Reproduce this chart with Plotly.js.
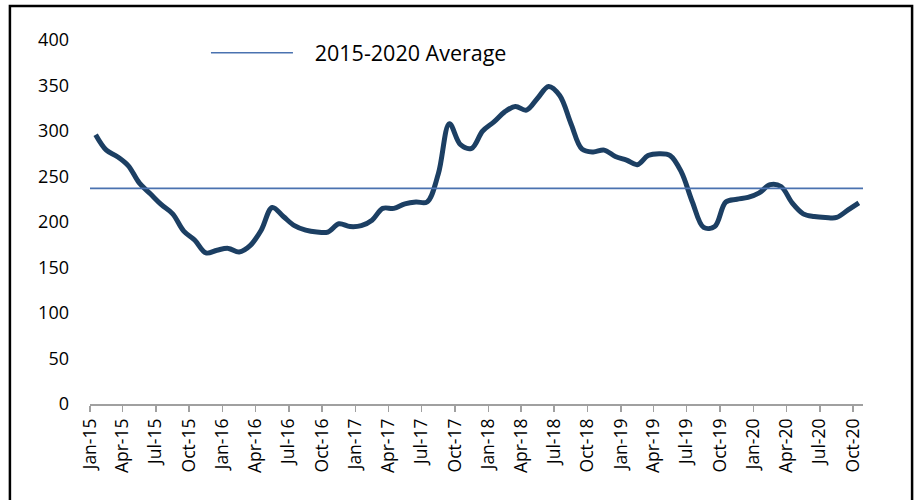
<!DOCTYPE html>
<html>
<head>
<meta charset="utf-8">
<script src="https://cdn.plot.ly/plotly-3.0.1.min.js"></script>
<style>
  html, body { margin: 0; padding: 0; background: #ffffff; }
  #chart { width: 915px; height: 500px; }
</style>
</head>
<body>
<div id="chart"></div>
<script>
// ---- Data ----
const months = [
  "2015-01","2015-02","2015-03","2015-04","2015-05","2015-06","2015-07","2015-08","2015-09","2015-10","2015-11","2015-12",
  "2016-01","2016-02","2016-03","2016-04","2016-05","2016-06","2016-07","2016-08","2016-09","2016-10","2016-11","2016-12",
  "2017-01","2017-02","2017-03","2017-04","2017-05","2017-06","2017-07","2017-08","2017-09","2017-10","2017-11","2017-12",
  "2018-01","2018-02","2018-03","2018-04","2018-05","2018-06","2018-07","2018-08","2018-09","2018-10","2018-11","2018-12",
  "2019-01","2019-02","2019-03","2019-04","2019-05","2019-06","2019-07","2019-08","2019-09","2019-10","2019-11","2019-12",
  "2020-01","2020-02","2020-03","2020-04","2020-05","2020-06","2020-07","2020-08","2020-09","2020-10"
];
const values = [
  296, 279, 272, 262, 243, 231, 219, 209, 190, 180, 166, 169,
  171, 167, 174, 191, 216, 206, 196, 191, 189, 189, 198, 195,
  196, 202, 215, 215, 220, 222, 222, 253, 308, 285, 281, 300,
  310, 321, 327, 323, 336, 349, 339, 308, 280, 277, 279, 272,
  268, 263, 273, 275, 273, 255, 222, 194, 195, 222, 225, 227,
  232, 241, 239, 221, 209, 206, 205, 205, 213, 221
];
const averageValue = 237;
const averageLabel = "2015-2020 Average";
const xRange = ["2015-01-01", "2020-10-28"];
const yTickVals = [0, 50, 100, 150, 200, 250, 300, 350, 400];

const FONT = '"Open Sans", "Noto Sans", sans-serif';

const traces = [
  {
    x: months,
    y: values,
    type: "scatter",
    mode: "lines",
    xperiod: "M1",
    xperiodalignment: "middle",
    line: { color: "#1c3f63", width: 5, shape: "spline", smoothing: 1 },
    showlegend: false,
    hoverinfo: "x+y"
  },
  {
    x: xRange,
    y: [averageValue, averageValue],
    type: "scatter",
    mode: "lines",
    name: "\u00a0\u00a0\u00a0" + averageLabel,
    line: { color: "#4a72b0", width: 1.6 },
    showlegend: true
  }
];

const layout = {
  width: 915,
  height: 500,
  margin: { l: 90, r: 52, t: 40, b: 96 },
  paper_bgcolor: "#ffffff",
  plot_bgcolor: "#ffffff",
  font: { family: FONT, size: 18, color: "#000000" },
  showlegend: true,
  legend: {
    orientation: "h",
    x: 0.15,
    xanchor: "left",
    y: 0.965,
    yanchor: "middle",
    itemwidth: 82,
    font: { family: FONT, size: 21.5, color: "#000000" },
    bgcolor: "rgba(0,0,0,0)"
  },
  xaxis: {
    type: "date",
    range: xRange,
    dtick: "M3",
    tick0: "2015-01-01",
    tickformat: "%b-%y",
    tickangle: -90,
    ticks: "outside",
    ticklen: 6,
    tickwidth: 1.5,
    tickcolor: "#a0a0a0",
    showline: true,
    linecolor: "#a0a0a0",
    linewidth: 1.5,
    showgrid: false,
    zeroline: false,
    tickfont: { family: FONT, size: 17.5, color: "#000000" }
  },
  yaxis: {
    range: [0, 400],
    tickvals: yTickVals,
    ticks: "",
    showline: false,
    showgrid: false,
    zeroline: false,
    ticklabelstandoff: 20,
    tickfont: { family: FONT, size: 18, color: "#000000" }
  },
  shapes: [
    {
      type: "rect",
      xref: "paper", yref: "paper",
      x0: -0.1036, x1: 1.0635,
      y0: -0.40, y1: 1.0934,
      line: { color: "#000000", width: 2.5 },
      fillcolor: "rgba(0,0,0,0)",
      layer: "below"
    }
  ]
};

Plotly.newPlot("chart", traces, layout, { displayModeBar: false, staticPlot: true });
</script>
</body>
</html>
